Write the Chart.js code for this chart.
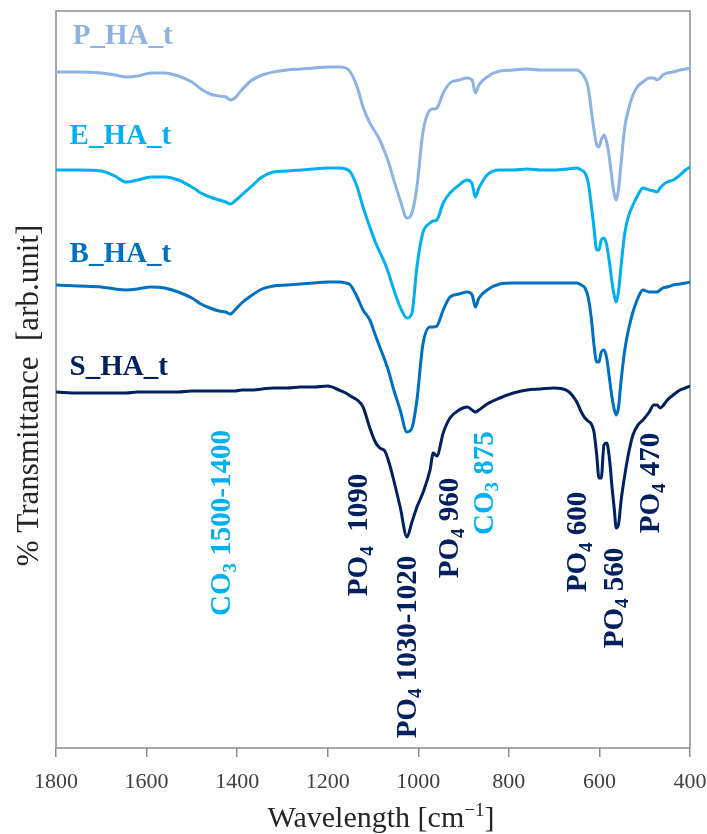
<!DOCTYPE html>
<html>
<head>
<meta charset="utf-8">
<script src="https://cdn.jsdelivr.net/npm/chart.js@4.4.1/dist/chart.umd.min.js"></script>
<style>
  html, body { margin: 0; padding: 0; background: #ffffff; }
  #wrap { width: 707px; height: 834px; position: relative; }
</style>
</head>
<body>
<div id="wrap"><canvas id="c"></canvas></div>
<script>
// Wavenumber grid (cm-1)
const wavenumbers = [
  1800, 1750, 1700, 1670, 1645, 1620, 1590, 1560, 1530, 1500,
  1480, 1460, 1440, 1425, 1415, 1405, 1390, 1370, 1345, 1320,
  1290, 1260, 1230, 1200, 1175, 1160, 1150, 1135, 1122, 1107,
  1095, 1085, 1074, 1065, 1056, 1040, 1025, 1014, 1003, 990,
  974, 967, 959, 945, 930, 910, 892, 881, 874, 866,
  848, 820, 790, 760, 730, 700, 670, 650, 640, 632,
  625, 618, 612, 606, 601, 596, 590, 584, 578, 572,
  567, 563, 558, 552, 544, 535, 526, 515, 504, 490,
  480, 473, 466, 460, 450, 437, 422, 410, 400
];

// Transmittance (arb. units, stacked/offset spectra)
const pHA = [
  676, 676, 675, 673, 671, 672, 675, 675, 672, 666,
  659, 654, 652, 651, 648, 650, 658, 667, 673, 676,
  678, 679, 680, 681, 681, 680, 676, 661, 641, 625,
  616, 608, 596, 585, 571, 548, 530, 535, 561, 615,
  638, 639, 640, 655, 665, 668, 670, 668, 655, 663,
  671, 677, 678, 679, 678, 678, 678, 678, 675, 670,
  661, 638, 618, 603, 601, 608, 613, 606, 590, 568,
  553, 548, 558, 586, 621, 640, 653, 662, 666, 670,
  670, 668, 670, 673, 675, 676, 678, 679, 680
];
const eHA = [
  578, 578, 577, 572, 566, 568, 571, 571, 568, 561,
  555, 551, 548, 546, 544, 547, 553, 561, 571, 576,
  577, 578, 579, 580, 580, 579, 576, 561, 541, 521,
  506, 496, 485, 474, 461, 441, 430, 435, 481, 515,
  525, 527, 528, 545, 555, 563, 568, 564, 551, 560,
  573, 578, 578, 579, 578, 578, 579, 580, 578, 575,
  566, 543, 520, 498, 498, 508, 510, 503, 486, 465,
  452, 446, 456, 483, 515, 533, 543, 553, 560, 558,
  557, 556, 560, 563, 566, 568, 573, 578, 581
];
const bHA = [
  463, 462, 461, 459, 458, 459, 461, 460, 456, 450,
  444, 440, 437, 436, 434, 438, 445, 452, 459, 462,
  463, 464, 465, 466, 466, 465, 463, 451, 438, 428,
  413, 401, 388, 376, 361, 338, 316, 320, 348, 403,
  421, 421, 422, 438, 451, 454, 456, 453, 441, 450,
  458, 464, 465, 465, 465, 465, 465, 465, 463, 460,
  451, 430, 403, 386, 386, 396, 398, 390, 370, 350,
  338, 333, 340, 368, 398, 420, 436, 450, 458, 456,
  456, 456, 458, 460, 461, 463, 464, 465, 466
];
const sHA = [
  356, 355, 355, 355, 355, 356, 356, 356, 356, 357,
  357, 357, 357, 357, 357, 357, 358, 358, 359, 360,
  360, 361, 361, 362, 358, 355, 352, 348, 341, 320,
  306, 300, 297, 286, 271, 241, 211, 226, 241, 255,
  278, 295, 292, 315, 330, 338, 341, 338, 336, 338,
  344, 350, 355, 358, 359, 360, 357, 346, 336, 330,
  327, 324, 316, 293, 270, 270, 303, 305, 290, 260,
  238, 220, 223, 248, 273, 296, 313, 323, 328, 336,
  343, 343, 340, 342, 348, 353, 358, 360, 362
];

const seriesNames = ['P_HA_t', 'E_HA_t', 'B_HA_t', 'S_HA_t'];
const seriesColors = ['#8DB3E2', '#00B0F0', '#0070C0', '#002060'];
const seriesData = [pHA, eHA, bHA, sHA];
// label anchor (wavenumber, level) for each series name
const seriesLabelWave = [1763, 1770, 1770, 1770];
const seriesLabelLevel = [711, 611, 493, 380];

const xTicks = [1800, 1600, 1400, 1200, 1000, 800, 600, 400];

// Band annotations: [main, subscript, rest], anchor wavenumber, level, colour
const bandText = [
  ['CO', '3', ' 1500-1400'],
  ['PO', '4', '  1090'],
  ['PO', '4', ' 1030-1020'],
  ['PO', '4', ' 960'],
  ['CO', '3', ' 875'],
  ['PO', '4', ' 600'],
  ['PO', '4', ' 560'],
  ['PO', '4', ' 470']
];
const bandWave = [1436, 1135, 1027, 934, 857, 650, 570, 490];
const bandLevel = [225, 213, 101, 220, 265, 206, 150, 265];
const bandColor = ['#00B0F0', '#002060', '#002060', '#002060', '#00B0F0', '#002060', '#002060', '#002060'];

const SERIF = '"Liberation Serif", "Times New Roman", serif';

const decorPlugin = {
  id: 'decor',
  beforeDatasetsDraw(chart) {
    const { ctx, chartArea: a } = chart;
    ctx.save();
    ctx.strokeStyle = '#8c8c8c';
    ctx.lineWidth = 1.5;
    ctx.strokeRect(a.left, a.top, a.right - a.left, a.bottom - a.top);
    ctx.restore();
  },
  afterDatasetsDraw(chart) {
    const { ctx, chartArea: a, scales } = chart;
    const xs = scales.x, ys = scales.y;
    // series names
    ctx.save();
    ctx.font = 'bold 29px ' + SERIF;
    ctx.textAlign = 'left';
    ctx.textBaseline = 'middle';
    seriesNames.forEach((n, i) => {
      ctx.fillStyle = seriesColors[i];
      ctx.fillText(n, xs.getPixelForValue(seriesLabelWave[i]), ys.getPixelForValue(seriesLabelLevel[i]));
    });
    ctx.restore();

    // rotated band labels
    const size = 29, sub = 19;
    bandText.forEach((parts, i) => {
      const cx = xs.getPixelForValue(bandWave[i]);
      const cy = ys.getPixelForValue(bandLevel[i]);
      ctx.save();
      ctx.translate(cx, cy);
      ctx.rotate(-Math.PI / 2);
      ctx.fillStyle = bandColor[i];
      ctx.textBaseline = 'alphabetic';
      ctx.textAlign = 'left';
      const fonts = ['bold ' + size + 'px ' + SERIF, 'bold ' + sub + 'px ' + SERIF, 'bold ' + size + 'px ' + SERIF];
      let total = 0;
      const widths = parts.map((p, k) => { ctx.font = fonts[k]; const w = ctx.measureText(p).width; total += w; return w; });
      let x = -total / 2;
      const base = size * 0.33;
      parts.forEach((p, k) => {
        ctx.font = fonts[k];
        ctx.fillText(p, x, k === 1 ? base + size * 0.2 : base);
        x += widths[k];
      });
      ctx.restore();
    });

    // y axis title
    ctx.save();
    ctx.translate(a.left - 26, (a.top + a.bottom) / 2 + 16);
    ctx.rotate(-Math.PI / 2);
    ctx.font = '31px ' + SERIF;
    ctx.fillStyle = '#262626';
    ctx.textAlign = 'center';
    ctx.textBaseline = 'middle';
    ctx.fillText('% Transmittance  [arb.unit]', 0, 0);
    ctx.restore();

    // x axis title with superscript
    ctx.save();
    ctx.fillStyle = '#262626';
    ctx.textBaseline = 'alphabetic';
    const p1 = 'Wavelength [cm', p2 = '\u22121', p3 = ']';
    const f1 = '30px ' + SERIF, f2 = '19px ' + SERIF;
    ctx.font = f1; const w1 = ctx.measureText(p1).width, w3 = ctx.measureText(p3).width;
    ctx.font = f2; const w2 = ctx.measureText(p2).width;
    const tot = w1 + w2 + w3;
    let tx = (a.left + a.right) / 2 + 8 - tot / 2;
    const by = a.bottom + 79;
    ctx.font = f1; ctx.fillText(p1, tx, by); tx += w1;
    ctx.font = f2; ctx.fillText(p2, tx, by - 11); tx += w2;
    ctx.font = f1; ctx.fillText(p3, tx, by);
    ctx.restore();
  }
};

new Chart(document.getElementById('c'), {
  type: 'line',
  data: {
    datasets: seriesData.map((arr, i) => ({
      label: seriesNames[i],
      data: wavenumbers.map((w, k) => ({ x: w, y: arr[k] })),
      borderColor: seriesColors[i],
      borderWidth: 3,
      pointRadius: 0,
      fill: false,
      cubicInterpolationMode: 'monotone'
    }))
  },
  options: {
    animation: false,
    responsive: true,
    maintainAspectRatio: false,
    devicePixelRatio: 1,
    layout: { padding: { left: 56, top: 11, right: 17, bottom: 0 } },
    plugins: { legend: { display: false }, tooltip: { enabled: false } },
    scales: {
      x: {
        type: 'linear',
        reverse: true,
        min: 400,
        max: 1800,
        afterBuildTicks: s => { s.ticks = xTicks.map(v => ({ value: v })); },
        afterFit: s => { s.height = 86; s.paddingLeft = 0; s.paddingRight = 0; },
        ticks: {
          font: { family: SERIF, size: 22 },
          color: '#404040',
          padding: 12,
          maxRotation: 0,
          callback: v => String(v)
        },
        grid: { drawOnChartArea: false, drawTicks: true, tickLength: 9, color: '#8c8c8c', lineWidth: 1.5 },
        border: { display: false }
      },
      y: { display: false, min: 0, max: 737 }
    }
  },
  plugins: [decorPlugin]
});
</script>
</body>
</html>
